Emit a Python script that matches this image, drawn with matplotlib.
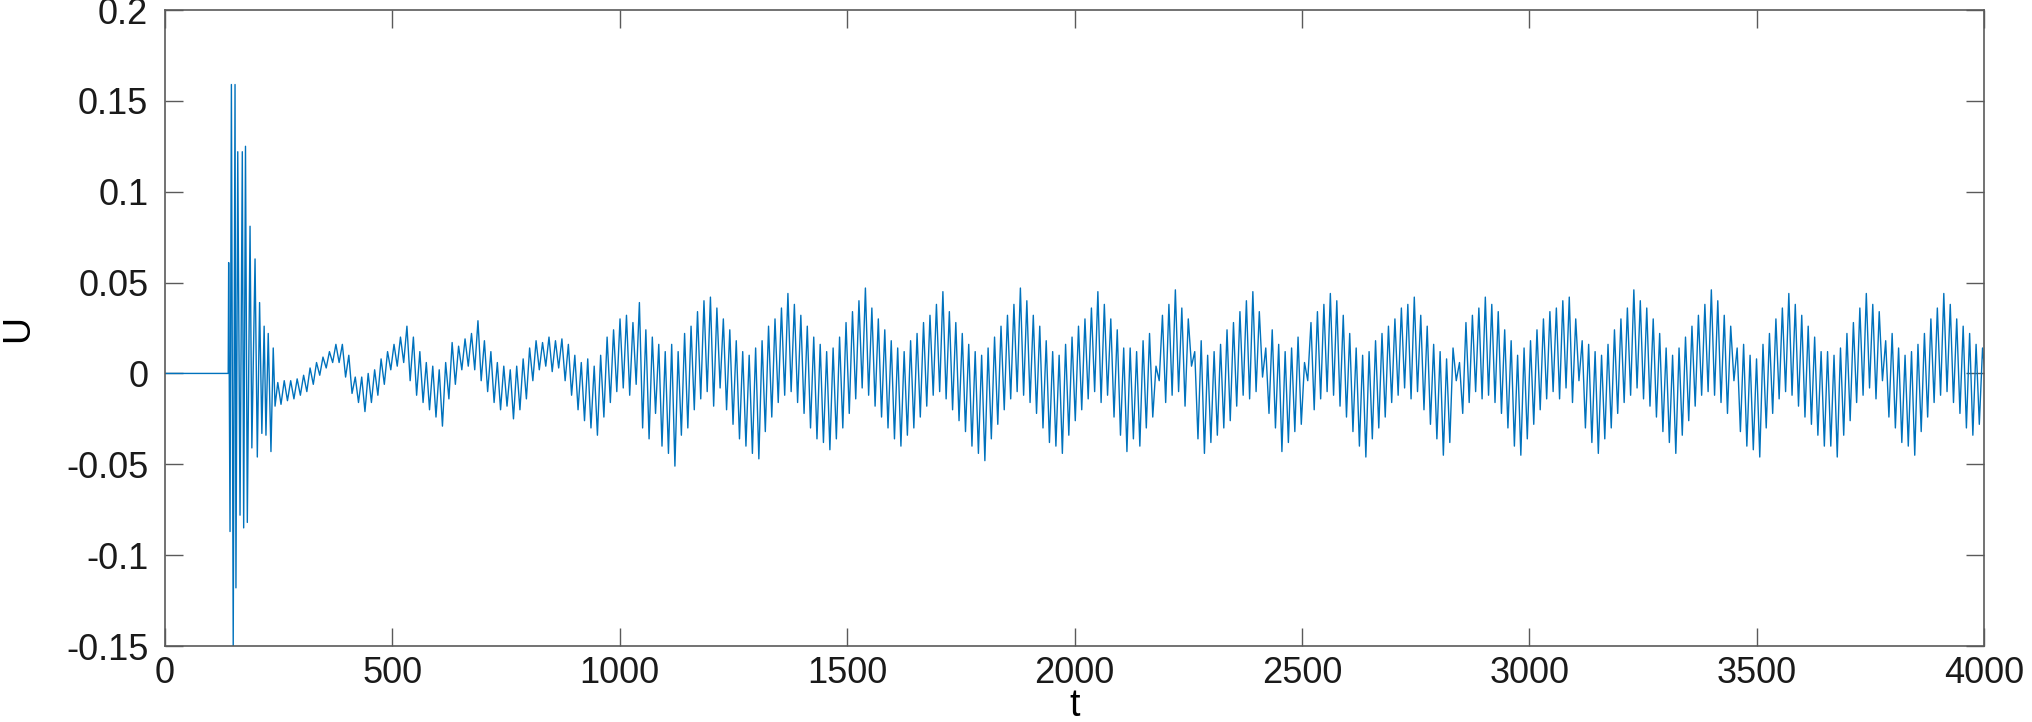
import numpy as np
import matplotlib
matplotlib.use("Agg")
import matplotlib.pyplot as plt

plt.rcParams['font.family'] = ['Liberation Sans', 'DejaVu Sans']

# quiet start and the initial burst (extremes)
burst_t = [0, 139, 140, 143, 146, 150, 154, 156, 160, 165, 170, 173, 177,
           181, 187, 191, 198, 203, 208, 213, 218, 222, 227, 233, 238, 242]
burst_u = [0, 0, 0.061, -0.087, 0.159, -0.150, 0.159, -0.118, 0.122, -0.078,
           0.122, -0.085, 0.125, -0.082, 0.081, -0.041, 0.063, -0.046, 0.039,
           -0.033, 0.026, -0.034, 0.022, -0.043, 0.014, -0.018]

# after the burst: alternating peak / trough values, one per half cycle
ripple_t0 = 248
ripple_dt = 7.1
ripple_u = [
    -0.005, -0.017, -0.004, -0.015, -0.004, -0.014, -0.003, -0.012, -0.001, -0.010, 0.003, -0.006,
    0.006, -0.001, 0.009, 0.003, 0.012, 0.006, 0.016, 0.006, 0.016, -0.002, 0.010, -0.011,
    -0.002, -0.016, -0.002, -0.021, 0.000, -0.016, 0.002, -0.012, 0.008, -0.006, 0.012, 0.002,
    0.016, 0.004, 0.020, 0.006, 0.026, -0.004, 0.020, -0.012, 0.012, -0.016, 0.006, -0.020,
    0.004, -0.024, 0.002, -0.029, 0.006, -0.014, 0.017, -0.006, 0.015, 0.002, 0.019, 0.004,
    0.022, 0.002, 0.029, -0.004, 0.018, -0.010, 0.012, -0.016, 0.006, -0.020, 0.004, -0.018,
    0.002, -0.025, 0.004, -0.020, 0.008, -0.014, 0.014, -0.004, 0.018, 0.002, 0.017, 0.004,
    0.020, 0.001, 0.018, 0.003, 0.019, -0.004, 0.016, -0.012, 0.010, -0.020, 0.006, -0.026,
    0.008, -0.030, 0.004, -0.034, 0.010, -0.024, 0.020, -0.016, 0.024, -0.010, 0.030, -0.008,
    0.032, -0.012, 0.028, -0.006, 0.039, -0.030, 0.024, -0.036, 0.020, -0.022, 0.016, -0.040,
    0.012, -0.044, 0.016, -0.051, 0.012, -0.034, 0.022, -0.030, 0.026, -0.020, 0.034, -0.014,
    0.040, -0.010, 0.042, -0.018, 0.036, -0.008, 0.030, -0.020, 0.024, -0.028, 0.018, -0.036,
    0.012, -0.040, 0.010, -0.044, 0.014, -0.047, 0.018, -0.032, 0.026, -0.024, 0.030, -0.016,
    0.036, -0.012, 0.044, -0.010, 0.038, -0.016, 0.032, -0.022, 0.026, -0.030, 0.020, -0.036,
    0.016, -0.038, 0.012, -0.042, 0.014, -0.036, 0.020, -0.030, 0.028, -0.022, 0.034, -0.014,
    0.040, -0.008, 0.047, -0.012, 0.036, -0.018, 0.030, -0.024, 0.024, -0.030, 0.018, -0.036,
    0.014, -0.040, 0.012, -0.034, 0.018, -0.030, 0.022, -0.024, 0.028, -0.018, 0.032, -0.012,
    0.038, -0.010, 0.045, -0.014, 0.034, -0.020, 0.028, -0.026, 0.022, -0.032, 0.016, -0.040,
    0.012, -0.044, 0.010, -0.048, 0.014, -0.036, 0.020, -0.028, 0.026, -0.020, 0.032, -0.014,
    0.038, -0.010, 0.047, -0.012, 0.040, -0.016, 0.032, -0.022, 0.026, -0.030, 0.018, -0.038,
    0.012, -0.040, 0.010, -0.044, 0.016, -0.034, 0.020, -0.026, 0.026, -0.020, 0.030, -0.014,
    0.036, -0.010, 0.045, -0.016, 0.038, -0.012, 0.030, -0.024, 0.024, -0.034, 0.014, -0.043,
    0.014, -0.036, 0.012, -0.040, 0.018, -0.030, 0.022, -0.024, 0.004, -0.004, 0.032, -0.016,
    0.038, -0.012, 0.046, -0.010, 0.036, -0.018, 0.030, 0.004, 0.012, -0.036, 0.018, -0.044,
    0.010, -0.038, 0.012, -0.034, 0.016, -0.030, 0.024, -0.026, 0.028, -0.018, 0.034, -0.012,
    0.040, -0.014, 0.045, -0.010, 0.034, -0.002, 0.014, -0.022, 0.024, -0.030, 0.016, -0.043,
    0.012, -0.038, 0.014, -0.032, 0.020, -0.028, 0.006, -0.004, 0.028, -0.020, 0.034, -0.014,
    0.038, -0.010, 0.044, -0.012, 0.040, -0.018, 0.032, -0.024, 0.022, -0.032, 0.014, -0.040,
    0.010, -0.046, 0.012, -0.036, 0.018, -0.030, 0.022, -0.024, 0.026, -0.016, 0.030, -0.012,
    0.036, -0.008, 0.038, -0.014, 0.042, -0.010, 0.032, -0.020, 0.026, -0.028, 0.016, -0.036,
    0.012, -0.045, 0.008, -0.038, 0.014, -0.004, 0.006, -0.022, 0.028, -0.016, 0.032, -0.010,
    0.036, -0.014, 0.042, -0.012, 0.038, -0.016, 0.034, -0.022, 0.024, -0.030, 0.018, -0.040,
    0.010, -0.045, 0.014, -0.036, 0.018, -0.028, 0.024, -0.020, 0.030, -0.014, 0.034, -0.010,
    0.036, -0.014, 0.040, -0.008, 0.042, -0.016, 0.030, -0.004, 0.018, -0.030, 0.016, -0.038,
    0.012, -0.044, 0.010, -0.036, 0.016, -0.030, 0.024, -0.022, 0.030, -0.016, 0.036, -0.012,
    0.046, -0.008, 0.040, -0.014, 0.036, -0.018, 0.030, -0.024, 0.022, -0.032, 0.014, -0.038,
    0.010, -0.044, 0.014, -0.034, 0.020, -0.026, 0.026, -0.018, 0.032, -0.012, 0.038, -0.010,
    0.046, -0.012, 0.040, -0.016, 0.032, -0.022, 0.026, -0.004, 0.014, -0.032, 0.016, -0.040,
    0.010, -0.042, 0.008, -0.046, 0.016, -0.030, 0.022, -0.022, 0.030, -0.014, 0.036, -0.010,
    0.044, -0.012, 0.038, -0.018, 0.032, -0.024, 0.026, -0.028, 0.020, -0.034, 0.012, -0.040,
    0.012, -0.040, 0.010, -0.046, 0.014, -0.034, 0.022, -0.026, 0.028, -0.016, 0.036, -0.012,
    0.044, -0.008, 0.038, -0.014, 0.034, -0.004, 0.018, -0.024, 0.022, -0.030, 0.014, -0.038,
    0.010, -0.040, 0.012, -0.045, 0.016, -0.032, 0.022, -0.024, 0.030, -0.016, 0.036, -0.012,
    0.044, -0.010, 0.038, -0.016, 0.030, -0.022, 0.026, -0.030, 0.022, -0.034, 0.016, -0.028,
    0.014, -0.004,
]

x_ticks = [0, 500, 1000, 1500, 2000, 2500, 3000, 3500, 4000]
y_ticks = [-0.15, -0.1, -0.05, 0, 0.05, 0.1, 0.15, 0.2]
y_tick_labels = ['-0.15', '-0.1', '-0.05', '0', '0.05', '0.1', '0.15', '0.2']

ripple_t = ripple_t0 + ripple_dt * np.arange(len(ripple_u))
t = np.concatenate([burst_t, ripple_t])
u = np.concatenate([burst_u, ripple_u])

fig = plt.figure(figsize=(20.32, 7.22), dpi=100)
ax = fig.add_axes([165 / 2032, 1 - 646 / 722, 1819 / 2032, 636 / 722])

ax.plot(t, u, color='#0072BD', linewidth=1.0)

ax.set_xlim(0, 4000)
ax.set_ylim(-0.15, 0.2)
ax.set_xticks(x_ticks)
ax.set_xticklabels([str(v) for v in x_ticks])
ax.set_yticks(y_ticks)
ax.set_yticklabels(y_tick_labels)

axis_col = '#5a5a5a'
for s in ax.spines.values():
    s.set_color(axis_col)
    s.set_linewidth(1.2)
ax.tick_params(direction='in', length=13, width=1.0, color=axis_col,
               top=True, right=True, labelsize=26, labelcolor='#1a1a1a')
ax.tick_params(axis='x', pad=7)
ax.tick_params(axis='y', pad=12)

ax.set_xlabel('t', fontsize=27, va='center')
ax.xaxis.set_label_coords(0.5, -0.094)
ax.set_ylabel('U', fontsize=27, va='center')
ax.yaxis.set_label_coords(-0.081, 0.5)

fig.savefig('out.png', dpi=100)
